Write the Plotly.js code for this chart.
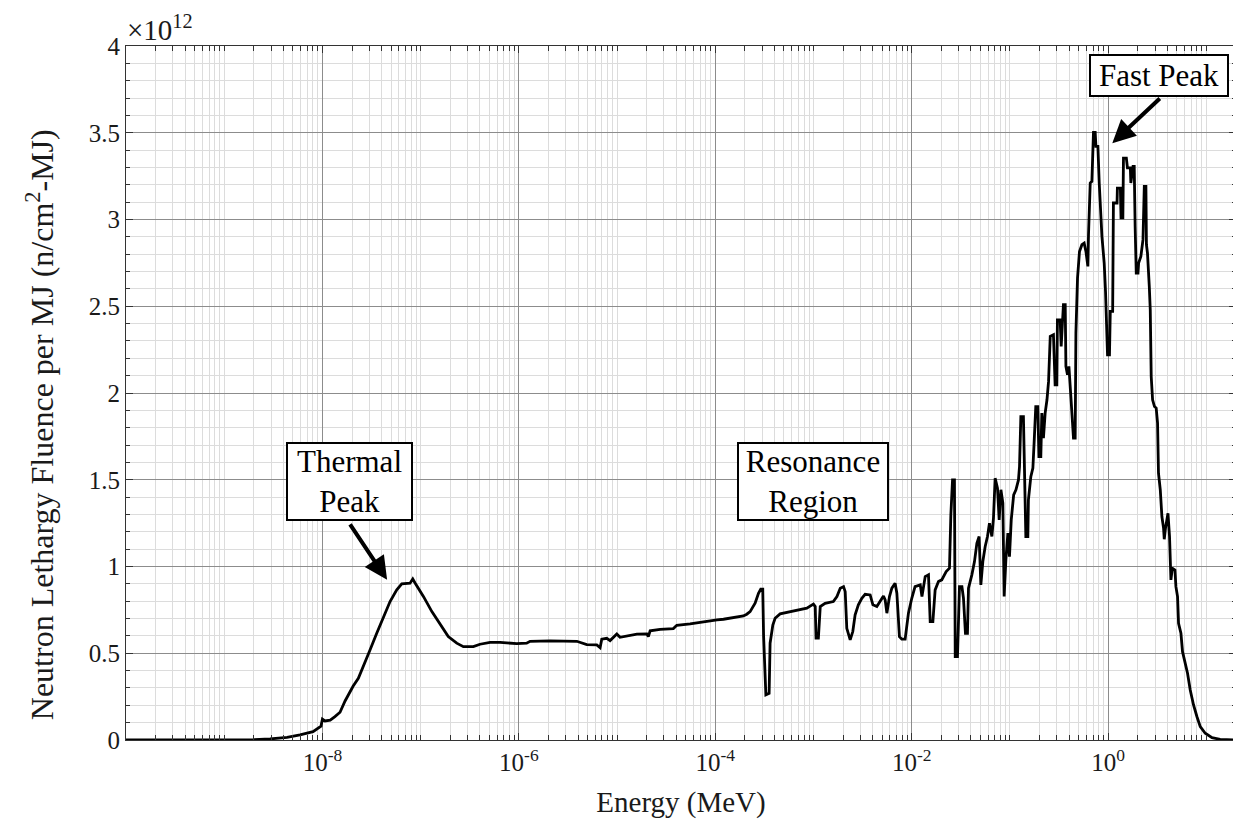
<!DOCTYPE html>
<html>
<head>
<meta charset="utf-8">
<script src="https://cdn.plot.ly/plotly-3.0.1.min.js"></script>
<style>
  html, body { margin: 0; padding: 0; overflow: hidden; background: #fff; }
  #chart { width: 1236px; height: 822px; }
</style>
</head>
<body>
<div id="chart"></div>
<script>
// Neutron energy (MeV), left-to-right along the spectrum
const E_MEV = [
  1.00e-10, 5.67e-10, 1.45e-9, 1.97e-9, 2.93e-9, 4.36e-9, 5.91e-9, 8.02e-9, 9.67e-9, 1.00e-8,
  1.06e-8, 1.20e-8, 1.34e-8, 1.51e-8, 1.70e-8, 1.91e-8, 2.05e-8, 2.32e-8, 2.61e-8, 3.05e-8,
  3.57e-8, 4.17e-8, 4.88e-8, 5.71e-8, 6.42e-8, 7.80e-8, 8.31e-8, 8.77e-8, 1.07e-7, 1.30e-7,
  1.58e-7, 1.91e-7, 2.33e-7, 2.72e-7, 3.44e-7, 4.02e-7, 5.09e-7, 6.43e-7, 9.52e-7, 1.20e-6,
  1.30e-6, 2.08e-6, 3.89e-6, 4.54e-6, 4.91e-6, 6.21e-6, 6.71e-6, 6.98e-6, 7.85e-6, 8.48e-6,
  9.17e-6, 9.93e-6, 1.07e-5, 1.25e-5, 1.59e-5, 2.01e-5, 2.08e-5, 2.17e-5, 2.74e-5, 3.74e-5,
  4.05e-5, 5.54e-5, 7.56e-5, 1.04e-4, 1.21e-4, 1.66e-4, 1.93e-4, 2.09e-4, 2.26e-4, 2.54e-4,
  2.75e-4, 2.90e-4, 3.04e-4, 3.10e-4, 3.27e-4, 3.53e-4, 3.61e-4, 3.85e-4, 4.06e-4, 4.57e-4,
  5.34e-4, 6.76e-4, 8.54e-4, 9.97e-4, 1.04e-3, 1.06e-3, 1.12e-3, 1.17e-3, 1.31e-3, 1.59e-3,
  1.73e-3, 1.87e-3, 2.02e-3, 2.10e-3, 2.18e-3, 2.36e-3, 2.51e-3, 2.65e-3, 2.86e-3, 3.10e-3,
  3.35e-3, 3.77e-3, 4.02e-3, 4.41e-3, 4.76e-3, 5.15e-3, 5.36e-3, 5.58e-3, 5.93e-3, 6.27e-3,
  6.77e-3, 7.05e-3, 7.49e-3, 7.92e-3, 8.56e-3, 9.25e-3, 1.00e-2, 1.08e-2, 1.22e-2, 1.27e-2,
  1.37e-2, 1.48e-2, 1.54e-2, 1.64e-2, 1.73e-2, 1.87e-2, 2.02e-2, 2.24e-2, 2.42e-2, 2.50e-2,
  2.60e-2, 2.72e-2, 2.77e-2, 2.92e-2, 3.06e-2, 3.24e-2, 3.36e-2, 3.52e-2, 3.69e-2, 3.78e-2,
  4.09e-2, 4.35e-2, 4.60e-2, 4.85e-2, 5.05e-2, 5.29e-2, 5.59e-2, 5.90e-2, 6.18e-2, 6.54e-2,
  6.79e-2, 7.06e-2, 7.46e-2, 7.76e-2, 8.08e-2, 8.46e-2, 8.72e-2, 9.08e-2, 9.52e-2, 9.88e-2,
  1.03e-1, 1.09e-1, 1.15e-1, 1.22e-1, 1.25e-1, 1.29e-1, 1.37e-1, 1.39e-1, 1.45e-1, 1.52e-1,
  1.54e-1, 1.63e-1, 1.71e-1, 1.76e-1, 1.83e-1, 1.92e-1, 1.97e-1, 2.06e-1, 2.11e-1, 2.19e-1,
  2.28e-1, 2.38e-1, 2.47e-1, 2.57e-1, 2.77e-1, 2.88e-1, 3.00e-1, 3.04e-1, 3.24e-1, 3.32e-1,
  3.50e-1, 3.65e-1, 3.71e-1, 3.85e-1, 3.98e-1, 4.27e-1, 4.43e-1, 4.61e-1, 4.69e-1, 4.87e-1,
  5.10e-1, 5.40e-1, 5.69e-1, 5.93e-1, 6.21e-1, 6.30e-1, 6.56e-1, 6.82e-1, 6.99e-1, 7.08e-1,
  7.37e-1, 7.50e-1, 7.85e-1, 8.10e-1, 8.63e-1, 9.10e-1, 9.39e-1, 9.84e-1, 1.03, 1.05,
  1.11, 1.13, 1.23, 1.24, 1.33, 1.35, 1.41, 1.43, 1.53, 1.57,
  1.68, 1.70, 1.79, 1.84, 1.88, 1.93, 2.01, 2.04, 2.15, 2.26,
  2.33, 2.42, 2.45, 2.51, 2.62, 2.68, 2.74, 2.83, 2.96, 3.08,
  3.18, 3.25, 3.39, 3.52, 3.66, 3.72, 3.83, 4.06, 4.21, 4.35,
  4.49, 4.78, 4.89, 5.08, 5.20, 5.50, 5.71, 6.08, 6.42, 6.84,
  7.39, 8.01, 8.65, 9.72, 11.4, 13.8, 18.8, 20.0
];

// Neutron lethargy fluence per MJ, in units of 1e12 n/cm^2-MJ
const FLUENCE = [
  0, 0, 0.001, 0.002, 0.006, 0.0155, 0.029, 0.048, 0.08, 0.12,
  0.11, 0.115, 0.135, 0.16, 0.225, 0.28, 0.31, 0.356, 0.423, 0.519,
  0.615, 0.711, 0.798, 0.865, 0.900, 0.904, 0.928, 0.905, 0.826, 0.740,
  0.663, 0.596, 0.558, 0.538, 0.538, 0.552, 0.563, 0.563, 0.555, 0.558,
  0.569, 0.571, 0.569, 0.558, 0.550, 0.548, 0.532, 0.581, 0.586, 0.573,
  0.592, 0.611, 0.592, 0.600, 0.610, 0.611, 0.596, 0.629, 0.638, 0.642,
  0.661, 0.669, 0.682, 0.692, 0.696, 0.706, 0.715, 0.725, 0.740, 0.788,
  0.846, 0.869, 0.869, 0.60, 0.260, 0.269, 0.558, 0.663, 0.702, 0.727,
  0.736, 0.746, 0.760, 0.783, 0.769, 0.587, 0.587, 0.769, 0.788, 0.798,
  0.827, 0.875, 0.884, 0.855, 0.644, 0.577, 0.625, 0.721, 0.779, 0.817,
  0.840, 0.836, 0.779, 0.769, 0.798, 0.830, 0.807, 0.731, 0.827, 0.875,
  0.904, 0.846, 0.596, 0.581, 0.581, 0.731, 0.817, 0.884, 0.894, 0.827,
  0.942, 0.952, 0.682, 0.682, 0.865, 0.913, 0.923, 0.971, 0.990, 1.298,
  1.499, 1.499, 0.481, 0.481, 0.884, 0.884, 0.817, 0.615, 0.615, 0.875,
  0.952, 1.028, 1.134, 1.173, 0.894, 1.028, 1.115, 1.173, 1.250, 1.173,
  1.279, 1.509, 1.452, 1.269, 1.442, 1.365, 0.827, 1.038, 1.192, 1.057,
  1.269, 1.413, 1.442, 1.499, 1.576, 1.864, 1.864, 1.634, 1.173, 1.173,
  1.384, 1.518, 1.567, 1.711, 1.922, 1.922, 1.634, 1.634, 1.884, 1.740,
  1.884, 1.961, 2.067, 2.326, 2.336, 2.047, 2.047, 2.422, 2.422, 2.268,
  2.509, 2.509, 2.153, 2.105, 2.153, 1.884, 1.740, 1.740, 2.345, 2.662,
  2.816, 2.855, 2.864, 2.816, 2.730, 2.912, 3.210, 3.220, 3.422, 3.502,
  3.502, 3.422, 3.422, 3.210, 2.903, 2.749, 2.585, 2.220, 2.220, 2.470,
  2.470, 3.095, 3.095, 3.181, 3.181, 3.009, 3.009, 3.354, 3.354, 3.297,
  3.297, 3.210, 3.306, 3.306, 2.960, 2.691, 2.691, 2.749, 2.787, 2.884,
  3.191, 3.191, 2.855, 2.807, 2.614, 2.480, 2.095, 1.961, 1.922, 1.913,
  1.826, 1.538, 1.442, 1.288, 1.221, 1.157, 1.221, 1.307, 1.173, 0.923,
  0.990, 0.980, 0.884, 0.827, 0.673, 0.615, 0.509, 0.442, 0.385, 0.288,
  0.202, 0.134, 0.077, 0.039, 0.013, 0.004, 0.0, 0.0
];

const FLUENCE_EXPONENT = 12;

const X_TICK_VALUES = [1e-8, 1e-6, 1e-4, 1e-2, 1];
const X_TICK_LABELS = ['10<sup>-8</sup>', '10<sup>-6</sup>', '10<sup>-4</sup>', '10<sup>-2</sup>', '10<sup>0</sup>'];
const Y_TICK_VALUES = [0, 0.5, 1, 1.5, 2, 2.5, 3, 3.5, 4];
const Y_TICK_LABELS = ['0', '0.5', '1', '1.5', '2', '2.5', '3', '3.5', '4'];

const X_TITLE = 'Energy (MeV)';
const Y_TITLE = 'Neutron Lethargy Fluence per MJ (n/cm<sup>2</sup>-MJ)';

const X_RANGE_MEV = [1e-10, 20];

// minor (unlabelled) log grid positions: 1..9 x 10^n, excluding the labelled decades
const minorX = [];
for (let n = -10; n <= 1; n++) {
  for (let m = 1; m <= 9; m++) {
    const v = m * Math.pow(10, n);
    if (v > X_RANGE_MEV[1]) continue;
    if (m === 1 && n % 2 === 0) continue;
    minorX.push(v);
  }
}

const SERIF = 'Liberation Serif';
const INK = '#1a1a1a';

const trace = {
  x: E_MEV,
  y: FLUENCE,
  type: 'scatter',
  mode: 'lines',
  line: { color: '#000', width: 2.8, shape: 'linear' },
  hoverinfo: 'x+y',
  showlegend: false
};

const layout = {
  width: 1236,
  height: 822,
  margin: { l: 126, r: 0, t: 46, b: 82 },
  paper_bgcolor: '#fff',
  plot_bgcolor: '#fff',
  font: { family: SERIF, color: INK, size: 24 },
  xaxis: {
    type: 'log',
    range: [Math.log10(X_RANGE_MEV[0]), Math.log10(X_RANGE_MEV[1])],
    tickmode: 'array',
    tickvals: X_TICK_VALUES,
    ticktext: X_TICK_LABELS,
    ticks: 'inside',
    ticklen: 7,
    tickcolor: '#333',
    tickfont: { family: SERIF, size: 25, color: INK },
    showgrid: true,
    gridcolor: '#8c8c8c',
    gridwidth: 1,
    showline: true,
    linecolor: '#333',
    linewidth: 1,
    mirror: 'allticks',
    zeroline: false,
    minor: {
      tickmode: 'array',
      tickvals: minorX,
      ticks: 'inside',
      ticklen: 5,
      tickcolor: '#333',
      showgrid: true,
      gridcolor: '#dcdcdc',
      gridwidth: 1
    },
    title: { text: X_TITLE, font: { family: SERIF, size: 29, color: INK }, standoff: 16 }
  },
  yaxis: {
    range: [0, 4],
    tickmode: 'array',
    tickvals: Y_TICK_VALUES,
    ticktext: Y_TICK_LABELS,
    ticks: 'inside',
    ticklen: 7,
    tickcolor: '#333',
    tickfont: { family: SERIF, size: 25, color: INK },
    showgrid: true,
    gridcolor: '#8c8c8c',
    gridwidth: 1,
    showline: true,
    linecolor: '#333',
    linewidth: 1,
    mirror: 'allticks',
    zeroline: false,
    minor: {
      dtick: 0.1,
      ticks: 'inside',
      ticklen: 4,
      tickcolor: '#333',
      showgrid: true,
      gridcolor: '#dcdcdc',
      gridwidth: 1
    }
  },
  annotations: [
    // y-axis title (placed as rotated text so it sits where the reference has it)
    {
      xref: 'paper', yref: 'paper', x: -0.0775, y: 0.455, xanchor: 'center', yanchor: 'middle',
      text: Y_TITLE, textangle: -90, showarrow: false,
      font: { family: SERIF, size: 32, color: INK }
    },
    // exponent label
    {
      xref: 'paper', yref: 'paper', x: 0, y: 1, xanchor: 'left', yanchor: 'bottom',
      text: '\u00d710<sup>' + FLUENCE_EXPONENT + '</sup>', showarrow: false,
      font: { family: SERIF, size: 29, color: INK }, xshift: -1, yshift: -2
    },
    // arrows
    {
      x: Math.log10(1.10), y: 3.44, xref: 'x', yref: 'y', text: '', showarrow: true,
      ax: 49, ay: -46, arrowhead: 2, arrowsize: 1.15, arrowwidth: 4, arrowcolor: '#000'
    },
    {
      x: Math.log10(4.55e-8), y: 0.923, xref: 'x', yref: 'y', text: '', showarrow: true,
      ax: -38, ay: -57, arrowhead: 2, arrowsize: 1.15, arrowwidth: 4, arrowcolor: '#000'
    },
    // boxes
    {
      xref: 'paper', yref: 'paper', x: 0.9306, y: 0.9575, xanchor: 'center', yanchor: 'middle',
      text: 'Fast Peak', showarrow: false, width: 136, height: 39, borderpad: 0,
      bordercolor: '#000', borderwidth: 2, bgcolor: '#fff',
      font: { family: SERIF, size: 31, color: '#000' }
    },
    {
      xref: 'paper', yref: 'paper', x: 0.2014, y: 0.372, xanchor: 'center', yanchor: 'middle',
      text: 'Thermal<br>Peak', showarrow: false, width: 123, height: 75, borderpad: 0,
      bordercolor: '#000', borderwidth: 2, bgcolor: '#fff',
      font: { family: SERIF, size: 31, color: '#000' }
    },
    {
      xref: 'paper', yref: 'paper', x: 0.619, y: 0.372, xanchor: 'center', yanchor: 'middle',
      text: 'Resonance<br>Region', showarrow: false, width: 148, height: 75, borderpad: 0,
      bordercolor: '#000', borderwidth: 2, bgcolor: '#fff',
      font: { family: SERIF, size: 31, color: '#000' }
    }
  ]
};

Plotly.newPlot('chart', [trace], layout, { staticPlot: true, displayModeBar: false });
</script>
</body>
</html>
